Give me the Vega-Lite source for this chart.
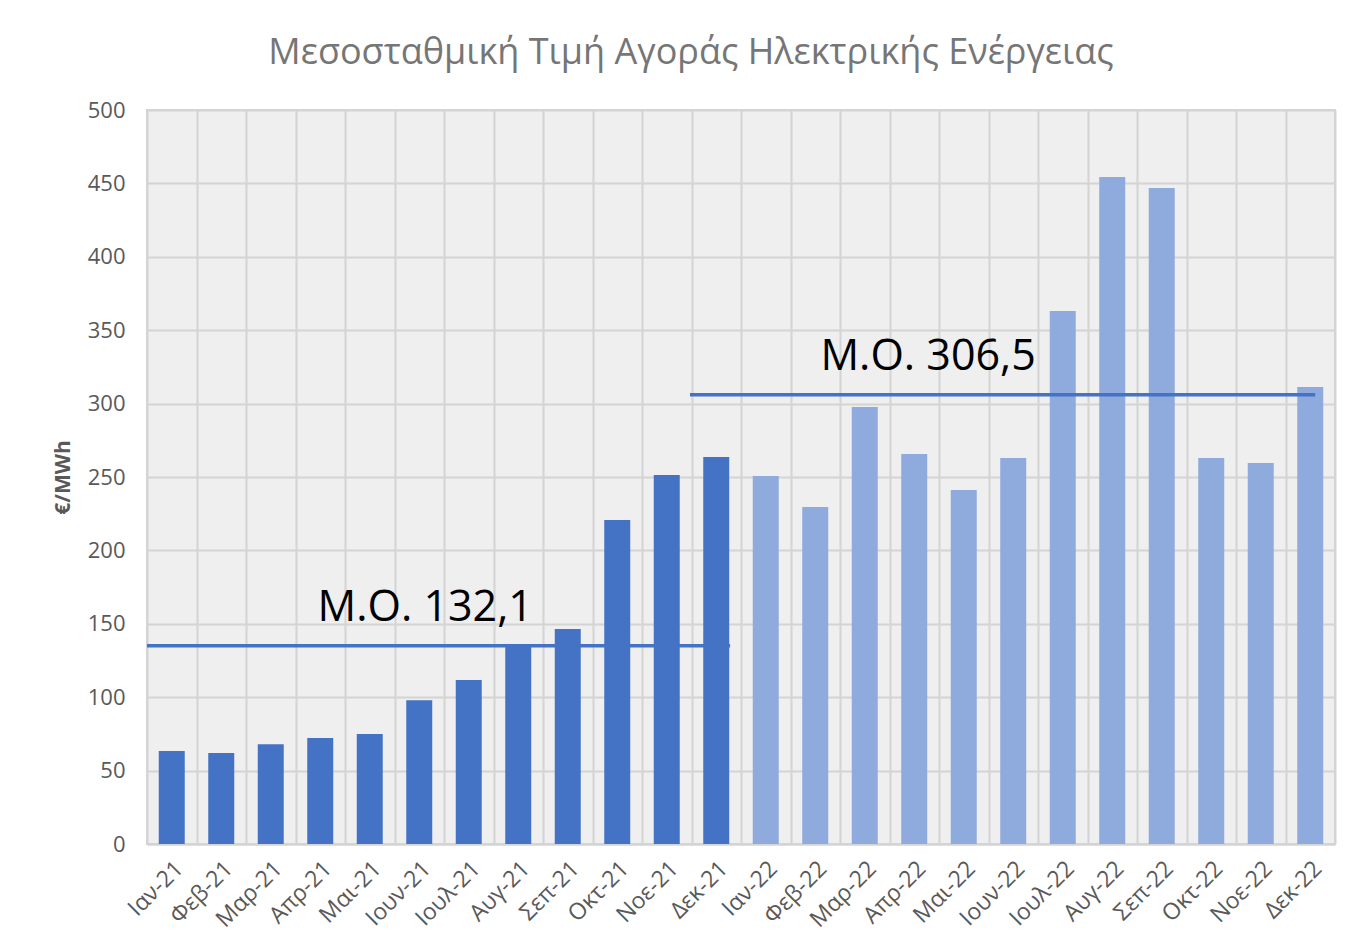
{
  "$schema": "https://vega.github.io/schema/vega-lite/v6.json",
  "width": 1188,
  "height": 734,
  "autosize": {"type": "none"},
  "padding": {"left": 147, "top": 110, "right": 28, "bottom": 105},
  "background": "white",
  "config": {
    "font": "Open Sans",
    "view": {"fill": "#efefef", "stroke": "#d4d4d4", "strokeWidth": 2}
  },
  "title": {
    "text": "Μεσοσταθμική Τιμή Αγοράς Ηλεκτρικής Ενέργειας",
    "font": "Open Sans",
    "fontSize": 36,
    "fontWeight": "normal",
    "color": "#767676",
    "offset": 27,
    "dx": -50,
    "anchor": "middle"
  },
  "datasets": {
    "prices": [
      {"month": "Ιαν-21", "year": "2021", "value": 63.4},
      {"month": "Φεβ-21", "year": "2021", "value": 62},
      {"month": "Μαρ-21", "year": "2021", "value": 68},
      {"month": "Απρ-21", "year": "2021", "value": 72.2},
      {"month": "Μαι-21", "year": "2021", "value": 75},
      {"month": "Ιουν-21", "year": "2021", "value": 98},
      {"month": "Ιουλ-21", "year": "2021", "value": 111.7},
      {"month": "Αυγ-21", "year": "2021", "value": 136},
      {"month": "Σεπ-21", "year": "2021", "value": 146.5},
      {"month": "Οκτ-21", "year": "2021", "value": 220.7},
      {"month": "Νοε-21", "year": "2021", "value": 251.4},
      {"month": "Δεκ-21", "year": "2021", "value": 263.6},
      {"month": "Ιαν-22", "year": "2022", "value": 250.7},
      {"month": "Φεβ-22", "year": "2022", "value": 229.6},
      {"month": "Μαρ-22", "year": "2022", "value": 297.7},
      {"month": "Απρ-22", "year": "2022", "value": 265.7},
      {"month": "Μαι-22", "year": "2022", "value": 241.1},
      {"month": "Ιουν-22", "year": "2022", "value": 262.9},
      {"month": "Ιουλ-22", "year": "2022", "value": 363},
      {"month": "Αυγ-22", "year": "2022", "value": 454.4},
      {"month": "Σεπ-22", "year": "2022", "value": 446.9},
      {"month": "Οκτ-22", "year": "2022", "value": 263},
      {"month": "Νοε-22", "year": "2022", "value": 259.5},
      {"month": "Δεκ-22", "year": "2022", "value": 311.3}
    ],
    "means": [
      {"from": 0, "to": 11.78, "mean": 135, "label": "Μ.Ο. 132,1", "labelPos": 5.62, "labelY": 161},
      {"from": 10.97, "to": 23.6, "mean": 306, "label": "Μ.Ο. 306,5", "labelPos": 15.78, "labelY": 332}
    ]
  },
  "layer": [
    {
      "data": {"name": "prices"},
      "mark": {"type": "bar"},
      "encoding": {
        "x": {
          "field": "month",
          "type": "ordinal",
          "sort": null,
          "scale": {"paddingInner": 0.475, "paddingOuter": 0.2375},
          "axis": {
            "title": null,
            "labelAngle": -45,
            "labelFontSize": 23,
            "labelColor": "#595959",
            "labelFont": "Open Sans",
            "labelPadding": 13,
            "ticks": false,
            "domain": true,
            "domainColor": "#d4d4d4",
            "domainWidth": 2,
            "grid": false
          }
        },
        "y": {
          "field": "value",
          "type": "quantitative",
          "scale": {"domain": [0, 500], "nice": false},
          "axis": {
            "title": "€/MWh",
            "titleFontSize": 21,
            "titleFontWeight": "bold",
            "titleColor": "#595959",
            "titleFont": "Open Sans",
            "titlePadding": 14,
            "values": [0, 50, 100, 150, 200, 250, 300, 350, 400, 450, 500],
            "labelFontSize": 22,
            "labelColor": "#595959",
            "labelFont": "Open Sans",
            "labelPadding": 22,
            "ticks": false,
            "domain": false,
            "grid": true,
            "gridColor": "#d4d4d4",
            "gridWidth": 2
          }
        },
        "color": {
          "field": "year",
          "type": "nominal",
          "scale": {"domain": ["2021", "2022"], "range": ["#4472C4", "#8FAADC"]},
          "legend": null
        }
      }
    },
    {
      "data": {"name": "means"},
      "mark": {"type": "rule", "color": "#4472C4", "strokeWidth": 3.5},
      "encoding": {
        "x": {
          "field": "from",
          "type": "quantitative",
          "scale": {"domain": [0, 24], "nice": false, "zero": false},
          "axis": {
            "title": null,
            "labels": false,
            "ticks": false,
            "domain": false,
            "grid": true,
            "gridColor": "#d4d4d4",
            "gridWidth": 2,
            "values": [0, 1, 2, 3, 4, 5, 6, 7, 8, 9, 10, 11, 12, 13, 14, 15, 16, 17, 18, 19, 20, 21, 22, 23, 24],
            "zindex": 0
          }
        },
        "x2": {"field": "to"},
        "y": {"field": "mean", "type": "quantitative"}
      }
    },
    {
      "data": {"name": "means"},
      "mark": {"type": "text", "font": "Open Sans", "fontSize": 43, "color": "black", "align": "center", "baseline": "middle"},
      "encoding": {
        "x": {"field": "labelPos", "type": "quantitative", "scale": {"domain": [0, 24], "nice": false, "zero": false}, "axis": null},
        "y": {"field": "labelY", "type": "quantitative"},
        "text": {"field": "label"}
      }
    }
  ],
  "resolve": {"scale": {"x": "independent"}}
}
